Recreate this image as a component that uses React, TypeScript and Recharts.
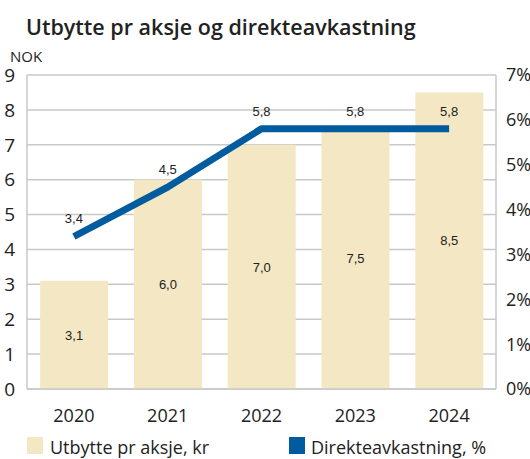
import React from "react";
import {
  ComposedChart,
  Bar,
  Line,
  XAxis,
  YAxis,
  CartesianGrid,
  LabelList,
} from "recharts";

const years = ["2020", "2021", "2022", "2023", "2024"];
const dividend = [3.1, 6.0, 7.0, 7.5, 8.5];
const yieldPct = [3.4, 4.5, 5.8, 5.8, 5.8];
const leftTicks = [0, 1, 2, 3, 4, 5, 6, 7, 8, 9];
const rightTicks = [0, 1, 2, 3, 4, 5, 6, 7];

const data = years.map((y, i) => ({
  year: y,
  dividend: dividend[i],
  yieldPct: yieldPct[i],
}));

const BAR = "#f4e7c3";
const LINE = "#005b9f";
const GRID = "#c8c8c8";
const TXT = "#222222";
const FONT = "'Open Sans', sans-serif";

const fmt = (v: number) => v.toFixed(1).replace(".", ",");

export default function App() {
  return (
    <div
      style={{
        position: "absolute",
        left: 0,
        top: 0,
        width: 530,
        height: 459,
        background: "#fff",
        overflow: "hidden",
      }}
    >
      <div
        style={{
          position: "absolute",
          left: 26,
          top: 16,
          fontFamily: FONT,
          fontSize: 21.5,
          fontWeight: 600,
          lineHeight: "22px",
          color: TXT,
          whiteSpace: "nowrap",
        }}
      >
        Utbytte pr aksje og direkteavkastning
      </div>
      <div
        style={{
          position: "absolute",
          left: 10,
          top: 49,
          fontFamily: FONT,
          fontSize: 15,
          lineHeight: "15px",
          color: TXT,
        }}
      >
        NOK
      </div>
      <ComposedChart
        width={530}
        height={459}
        data={data}
        margin={{ top: 75, right: 0, bottom: 40, left: 0 }}
        barCategoryGap="14%"
      >
        <CartesianGrid yAxisId="l" vertical={false} stroke={GRID} strokeWidth={1.5} />
        <XAxis
          dataKey="year"
          height={30}
          tickLine={false}
          axisLine={{ stroke: GRID, strokeWidth: 1.5 }}
          tick={{ fill: TXT, fontSize: 18, fontFamily: FONT }}
          tickMargin={14}
        />
        <YAxis
          yAxisId="l"
          domain={[0, 9]}
          ticks={leftTicks}
          width={27}
          tickLine={false}
          axisLine={{ stroke: GRID, strokeWidth: 1.5 }}
          tick={{ fill: TXT, fontSize: 19, fontFamily: FONT }}
          tickMargin={6}
          interval={0}
        />
        <YAxis
          yAxisId="r"
          orientation="right"
          domain={[0, 7]}
          ticks={rightTicks}
          width={34}
          tickLine={false}
          axisLine={{ stroke: GRID, strokeWidth: 1.5 }}
          tick={{ fill: TXT, fontSize: 18, fontFamily: FONT }}
          tickFormatter={(v: number) => `${v}%`}
          tickMargin={4}
          interval={0}
        />
        <Bar yAxisId="l" dataKey="dividend" fill={BAR} isAnimationActive={false}>
          <LabelList
            dataKey="dividend"
            position="center"
            formatter={(v: any) => fmt(Number(v))}
            style={{ fill: TXT, fontSize: 13, fontFamily: "'Liberation Sans', Arial, sans-serif" }}
          />
        </Bar>
        <Line
          yAxisId="r"
          dataKey="yieldPct"
          stroke={LINE}
          strokeWidth={7}
          strokeLinejoin="round"
          dot={false}
          activeDot={false}
          type="linear"
          isAnimationActive={false}
        >
          <LabelList
            dataKey="yieldPct"
            position="top"
            offset={13}
            formatter={(v: any) => fmt(Number(v))}
            style={{ fill: TXT, fontSize: 13, fontFamily: "'Liberation Sans', Arial, sans-serif" }}
          />
        </Line>
      </ComposedChart>
      <div
        style={{
          position: "absolute",
          left: 27,
          top: 437,
          width: 16,
          height: 17,
          background: BAR,
        }}
      />
      <div
        style={{
          position: "absolute",
          left: 50,
          top: 438,
          fontFamily: FONT,
          fontSize: 18,
          lineHeight: "18px",
          color: TXT,
          whiteSpace: "nowrap",
        }}
      >
        Utbytte pr aksje, kr
      </div>
      <div
        style={{
          position: "absolute",
          left: 289,
          top: 437,
          width: 16,
          height: 17,
          background: LINE,
        }}
      />
      <div
        style={{
          position: "absolute",
          left: 311,
          top: 438,
          fontFamily: FONT,
          fontSize: 18,
          lineHeight: "18px",
          color: TXT,
          whiteSpace: "nowrap",
        }}
      >
        Direkteavkastning, %
      </div>
    </div>
  );
}
